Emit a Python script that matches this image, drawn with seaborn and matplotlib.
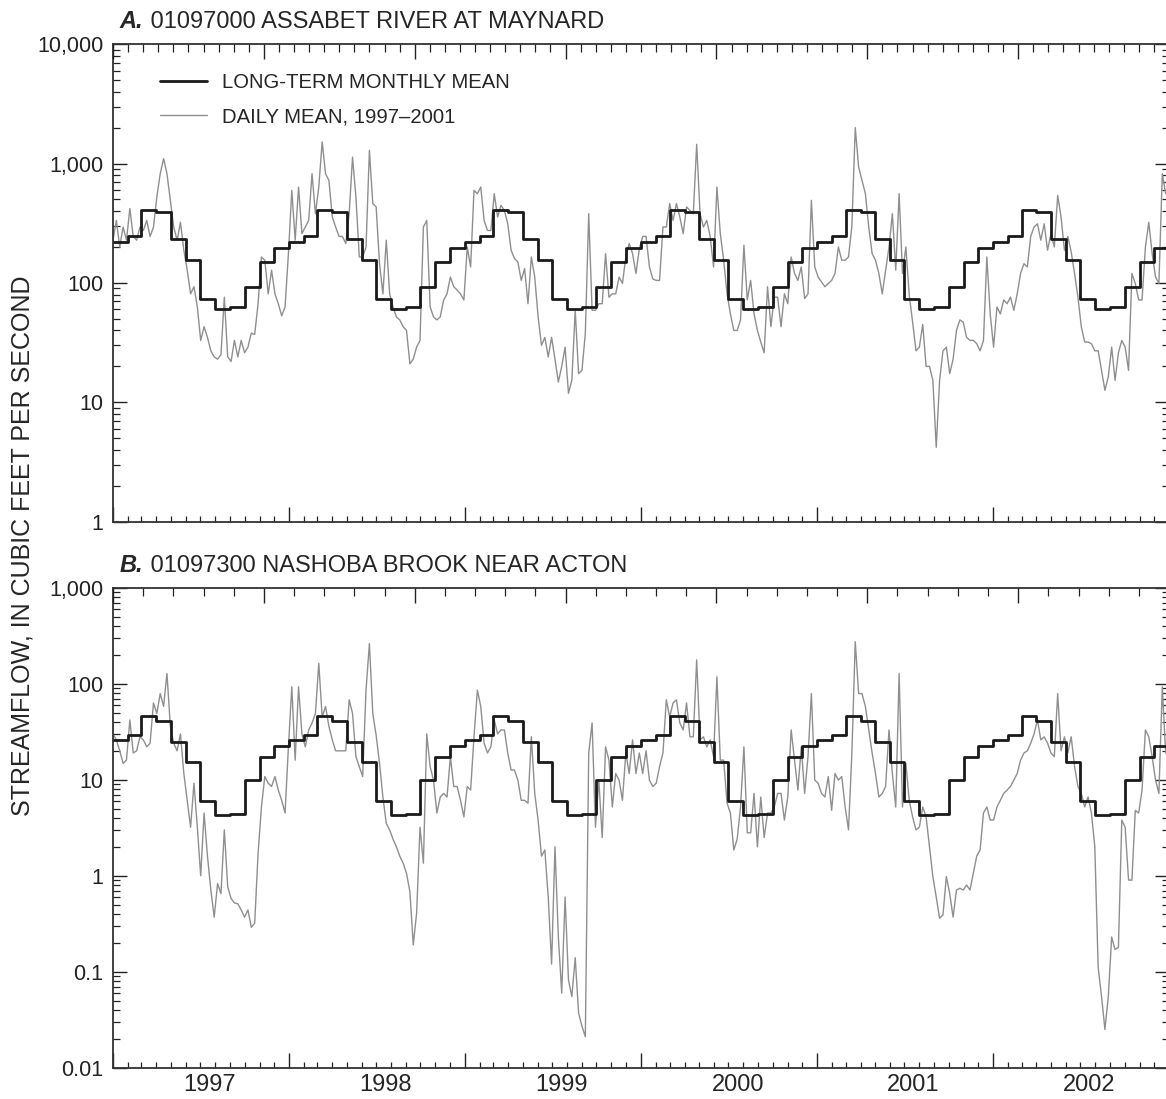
import numpy as np
import pandas as pd
import seaborn as sns
import matplotlib
matplotlib.use('Agg')
import matplotlib.pyplot as plt
import matplotlib.dates as mdates
from matplotlib.lines import Line2D
from matplotlib.ticker import LogLocator, FuncFormatter, MultipleLocator, NullFormatter

sns.set_style('ticks')
plt.rcParams['font.family'] = ['Liberation Sans', 'DejaVu Sans']

# Long-term monthly mean streamflow, Jan..Dec (cubic feet per second)
assabet_monthly = [219, 245, 406, 390, 234, 155, 73, 60, 63, 92, 149, 196]
nashoba_monthly = [25.7, 29.2, 46, 41, 24.5, 15.2, 6.0, 4.3, 4.4, 9.9, 17.4, 22.6]

assabet_daily = [
    228, 334, 200, 294, 228, 420, 245, 228, 294, 275,
    334, 245, 294, 525, 822, 1100, 822, 492, 294, 228,
    322, 188, 128, 81, 93, 63, 33, 43, 35, 27,
    24, 23, 25, 76, 24, 22, 33, 24, 33, 26,
    29, 38, 37, 67, 165, 155, 81, 128, 81, 67,
    53, 63, 176, 596, 228, 636, 259, 294, 334, 822,
    380, 636, 1520, 822, 723, 357, 294, 245, 245, 214,
    380, 1133, 525, 165, 165, 200, 1290, 462, 433, 145,
    81, 228, 81, 63, 52, 49, 43, 40, 21, 23,
    29, 33, 294, 334, 63, 52, 49, 52, 72, 81,
    112, 93, 87, 81, 72, 200, 136, 596, 559, 636,
    334, 275, 275, 559, 357, 447, 405, 313, 188, 160,
    150, 105, 132, 67, 165, 112, 52, 30, 35, 24,
    35, 23, 14.8, 20, 29, 11.9, 15.3, 59, 17.4, 18.5,
    38, 380, 59, 59, 67, 67, 176, 76, 81, 81,
    112, 99, 165, 214, 176, 120, 193, 245, 245, 136,
    108, 105, 105, 294, 294, 462, 334, 462, 357, 259,
    433, 405, 380, 1450, 380, 294, 334, 245, 136, 636,
    259, 155, 81, 55, 40, 40, 49, 207, 72, 105,
    55, 40, 32, 26, 93, 43, 76, 76, 43, 81,
    67, 165, 120, 105, 136, 74, 81, 492, 136, 112,
    102, 93, 99, 105, 120, 200, 155, 155, 165, 300,
    2000, 935, 723, 559, 294, 176, 155, 120, 81, 128,
    200, 380, 128, 559, 120, 200, 79, 47, 27, 29,
    45, 20, 20, 15.3, 4.2, 15.3, 27, 29, 17.4, 23,
    40, 49, 47, 35, 33, 33, 31, 27, 33, 165,
    55, 29, 63, 55, 72, 67, 76, 59, 81, 120,
    145, 136, 245, 294, 313, 228, 313, 188, 259, 200,
    541, 357, 188, 245, 182, 120, 76, 43, 32, 32,
    31, 27, 27, 18.5, 12.6, 16.4, 29, 15.3, 26, 33,
    29, 18.5, 120, 99, 72, 72, 200, 322, 176, 112,
    99, 822, 559,
]

nashoba_daily = [
    30, 26, 20, 14.8, 16, 42, 19, 20, 28, 26,
    22, 24, 63, 49, 79, 58, 128, 36, 24, 20,
    30, 11.6, 6.1, 3.2, 9.2, 3.2, 1.0, 4.5, 1.6, 0.71,
    0.37, 0.83, 0.65, 3.0, 0.77, 0.58, 0.52, 0.51, 0.44, 0.37,
    0.44, 0.29, 0.32, 1.7, 5.2, 10.8, 9.2, 8.5, 10.8, 7.8,
    6.1, 4.5, 22, 93, 16, 93, 30, 22, 33, 39,
    49, 163, 45, 58, 36, 26, 20, 20, 20, 20,
    68, 49, 17.4, 13.7, 10.8, 86, 262, 49, 29, 14.8,
    6.6, 3.5, 3.0, 2.4, 2.0, 1.6, 1.35, 1.06, 0.68, 0.19,
    0.41, 3.2, 1.35, 30, 13.7, 9.9, 4.5, 6.6, 7.2, 6.6,
    17.4, 8.5, 8.5, 6.1, 4.1, 8.5, 7.8, 28, 86, 58,
    24, 19, 22, 42, 30, 33, 33, 19, 12.6, 12.6,
    9.9, 6.1, 6.1, 5.7, 28, 7.2, 3.8, 1.6, 1.85, 0.6,
    0.12, 2.0, 0.23, 0.06, 0.6, 0.082, 0.055, 0.14, 0.037, 0.027,
    0.021, 19, 39, 3.2, 9.9, 2.5, 22, 16, 5.2, 11.6,
    9.9, 6.1, 19, 11.6, 26, 11.6, 19, 11.6, 20, 9.9,
    8.5, 9.2, 13.7, 19, 68, 45, 63, 68, 39, 33,
    63, 28, 28, 177, 26, 28, 22, 26, 17.4, 118,
    16, 16, 5.7, 4.5, 1.85, 2.4, 5.2, 22, 2.8, 2.8,
    7.2, 2.0, 6.6, 2.5, 4.5, 4.5, 5.2, 7.2, 7.2, 3.8,
    6.6, 33, 16, 7.8, 22, 7.2, 17.4, 79, 9.9, 9.2,
    7.2, 6.6, 10.8, 4.8, 11.6, 9.9, 10.8, 5.2, 3.0, 19,
    274, 79, 79, 58, 33, 19, 11.6, 6.6, 7.2, 8.5,
    33, 11.6, 5.2, 128, 5.2, 14.8, 6.1, 4.1, 3.0, 3.2,
    5.2, 4.1, 2.0, 0.98, 0.6, 0.36, 0.39, 0.98, 0.65, 0.37,
    0.71, 0.74, 0.71, 0.8, 0.71, 1.06, 1.6, 1.85, 4.5, 5.2,
    3.8, 3.8, 5.2, 6.1, 7.2, 7.8, 8.5, 9.9, 11.6, 16,
    19, 20, 24, 30, 42, 26, 28, 24, 19, 17.4,
    79, 20, 28, 19, 28, 13.7, 8.5, 7.2, 5.2, 6.6,
    4.5, 2.0, 0.11, 0.055, 0.025, 0.055, 0.23, 0.17, 0.18, 3.8,
    3.2, 0.9, 0.9, 4.8, 4.5, 7.8, 33, 28, 17.4, 9.9,
    7.2, 93, 19,
]

years = [1997, 1998, 1999, 2000, 2001, 2002]
panels = [
    ('A.', ' 01097000 ASSABET RIVER AT MAYNARD', assabet_daily, assabet_monthly,
     (1, 10000), [1, 10, 100, 1000, 10000], 0.1),
    ('B.', ' 01097300 NASHOBA BROOK NEAR ACTON', nashoba_daily, nashoba_monthly,
     (0.01, 1000), [0.01, 0.1, 1, 10, 100, 1000], 0.2),
]

GRAY = '#8f8f8f'
BLACK = '#1a1a1a'
FS = 15.5       # tick labels
FS_LEG = 14.6
FS_TITLE = 17
FS_YEAR = 17
FS_YLAB = 18


def fmt_flow(v, pos):
    return f'{v:,.0f}' if v >= 1 else f'{v:g}'


fig = plt.figure(figsize=(11.66, 10.99), dpi=100)
axA = fig.add_axes([0.0969, 0.5253, 0.9057, 0.4345])
axB = fig.add_axes([0.0969, 0.0285, 0.9057, 0.4367])

for ax, (tag, name, daily, monthly, ylim, yticks, top_minor) in zip([axA, axB], panels):
    days = pd.date_range('1997-01-01', periods=len(daily), freq='7D')
    df_day = pd.DataFrame({'date': days, 'flow': daily})

    months = pd.date_range('1997-01-01', '2003-01-01', freq='MS')
    mvals = list(np.tile(monthly, len(years))) + [monthly[-1]]
    df_mon = pd.DataFrame({'date': months, 'flow': mvals})

    sns.lineplot(data=df_day, x='date', y='flow', ax=ax, color=GRAY, linewidth=1.0,
                 errorbar=None, estimator=None)
    sns.lineplot(data=df_mon, x='date', y='flow', ax=ax, color=BLACK, linewidth=2.0,
                 errorbar=None, estimator=None, drawstyle='steps-post')

    ax.set_yscale('log')
    ax.set_ylim(*ylim)
    ax.set_xlim(pd.Timestamp('1997-01-01'), pd.Timestamp('2003-01-01'))
    ax.set_xlabel('')
    ax.set_ylabel('')

    ax.yaxis.set_major_locator(matplotlib.ticker.FixedLocator(yticks))
    ax.yaxis.set_major_formatter(FuncFormatter(fmt_flow))
    ax.yaxis.set_minor_locator(LogLocator(base=10, subs=np.arange(2, 10), numticks=20))
    ax.yaxis.set_minor_formatter(NullFormatter())

    ax.xaxis.set_major_locator(mdates.YearLocator())
    ax.xaxis.set_minor_locator(mdates.MonthLocator())
    ax.xaxis.set_major_formatter(NullFormatter())

    ax.tick_params(axis='y', which='both', direction='in', left=True, right=True,
                   labelsize=FS, pad=7, colors='#222222')
    ax.tick_params(axis='y', which='major', length=10, width=1.0)
    ax.tick_params(axis='y', which='minor', length=5, width=0.9)
    ax.tick_params(axis='x', which='both', direction='in', bottom=True, top=False,
                   colors='#222222')
    ax.tick_params(axis='x', which='major', length=11, width=1.0)
    ax.tick_params(axis='x', which='minor', length=4.5, width=0.9)

    for sp in ax.spines.values():
        sp.set_visible(True)
        sp.set_linewidth(1.3)
        sp.set_color('#333333')

    # ticks along the top edge
    top = ax.twiny()
    top.set_xlim(0, 7)
    top.xaxis.set_major_locator(MultipleLocator(1))
    top.xaxis.set_minor_locator(MultipleLocator(top_minor))
    top.tick_params(axis='x', which='both', direction='in', top=True, bottom=False,
                    labeltop=False, labelbottom=False, colors='#222222')
    top.tick_params(axis='x', which='major', length=11, width=1.0)
    top.tick_params(axis='x', which='minor', length=6, width=0.9)
    for sp in top.spines.values():
        sp.set_visible(False)

    t1 = ax.text(0.0066, 1.033, tag, transform=ax.transAxes, fontsize=FS_TITLE,
                 fontweight='bold', fontstyle='italic', ha='left', va='baseline')
    ax.annotate(name, xy=(1, 0), xycoords=t1, fontsize=FS_TITLE, ha='left', va='bottom')

for y in years:
    xd = mdates.date2num(pd.Timestamp(f'{y}-07-20'))
    axB.text(xd, -0.013, str(y), transform=axB.get_xaxis_transform(),
             ha='center', va='top', fontsize=FS_YEAR)

handles = [Line2D([], [], color=BLACK, lw=2.0), Line2D([], [], color=GRAY, lw=1.0)]
axA.legend(handles, ['LONG-TERM MONTHLY MEAN', 'DAILY MEAN, 1997\u20132001'],
           loc='upper left', bbox_to_anchor=(0.0445, 0.94), frameon=False,
           fontsize=FS_LEG, handlelength=2.3, handletextpad=0.75, labelspacing=0.75,
           borderpad=0, borderaxespad=0)

fig.text(0.019, 0.503, 'STREAMFLOW, IN CUBIC FEET PER SECOND', rotation=90,
         ha='center', va='center', fontsize=FS_YLAB)

fig.savefig('out.png', dpi=100)
